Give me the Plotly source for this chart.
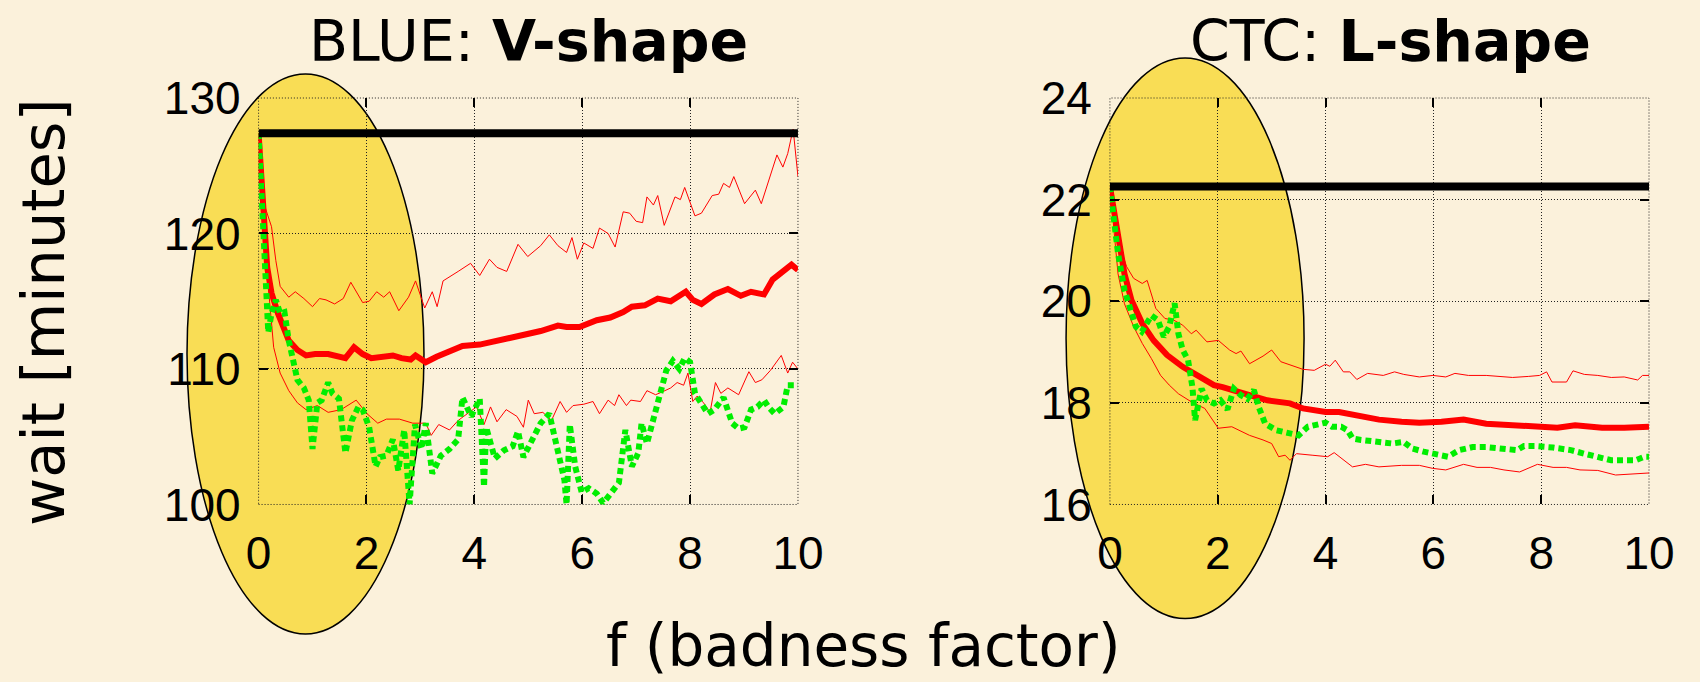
import plotly.graph_objects as go

# ---------------- Left panel: BLUE (V-shape) ----------------
blue_base_x = [0, 10]
blue_base_y = [127.4, 127.4]

blue_mean_x = [0, 0.08, 0.16, 0.24, 0.36, 0.56, 0.72, 0.88, 1.05, 1.29, 1.61, 1.77, 1.93, 2.09, 2.29,
               2.49, 2.65, 2.82, 2.91, 3.1, 3.3, 3.54, 3.78, 4.1, 4.34, 4.59, 4.83, 5.07, 5.23, 5.55,
               5.71, 5.95, 6.27, 6.52, 6.76, 6.92, 7.16, 7.4, 7.64, 7.92, 8.05, 8.21, 8.45, 8.7, 8.94,
               9.13, 9.37, 9.53, 9.73, 9.88, 10]
blue_mean_y = [127.4, 122.5, 117.5, 115.6, 114.1, 112.1, 111.4, 111.0, 111.1, 111.1, 110.8, 111.6, 111.1,
               110.8, 110.9, 111.0, 110.8, 110.7, 111.0, 110.5, 110.9, 111.3, 111.7, 111.8, 112.0, 112.2,
               112.5, 112.6, 112.8, 113.2, 113.1, 113.1, 113.6, 113.8, 114.2, 114.6, 114.7, 115.2, 115.0,
               115.7, 115.1, 114.8, 115.5, 115.9, 115.4, 115.7, 115.5, 116.6, 117.3, 117.7, 117.3]

blue_upper_x = [0, 0.1, 0.24, 0.32, 0.4, 0.56, 0.68, 0.84, 1.0, 1.13, 1.25, 1.41, 1.57, 1.71, 1.93, 2.05,
                2.19, 2.32, 2.43, 2.6, 2.78, 2.91, 3.08, 3.22, 3.31, 3.42, 3.7, 3.93, 4.1, 4.28, 4.42,
                4.6, 4.81, 4.99, 5.23, 5.39, 5.55, 5.71, 5.81, 5.91, 6.03, 6.2, 6.32, 6.48, 6.61, 6.76,
                6.88, 7.0, 7.12, 7.2, 7.32, 7.4, 7.52, 7.72, 7.82, 7.9, 8.09, 8.21, 8.41, 8.53, 8.62,
                8.73, 8.81, 9.01, 9.21, 9.32, 9.61, 9.72, 9.81, 9.91, 10]
blue_upper_y = [127.4, 122.2, 120.5, 118.0, 116.1, 115.3, 115.7, 115.2, 114.6, 115.2, 115.1, 114.8, 115.2,
                116.4, 114.9, 115.0, 115.7, 115.3, 115.7, 114.3, 115.3, 116.5, 114.5, 115.7, 114.6, 116.5,
                117.2, 117.8, 116.9, 118.1, 117.5, 117.2, 119.2, 118.3, 119.1, 119.9, 119.1, 118.6, 119.7,
                118.1, 119.3, 118.9, 120.4, 120.0, 119.0, 121.6, 121.5, 120.9, 120.8, 122.7, 122.1, 122.8,
                120.6, 122.7, 122.5, 123.4, 121.3, 121.5, 122.8, 122.9, 123.7, 123.4, 124.2, 122.2, 123.2,
                122.2, 125.8, 124.9, 125.9, 127.7, 124.2]

blue_lower_x = [0, 0.08, 0.16, 0.28, 0.4, 0.56, 0.72, 0.88, 1.09, 1.29, 1.53, 1.81, 2.01, 2.21, 2.37,
                2.61, 2.86, 3.1, 3.2, 3.34, 3.54, 3.7, 3.86, 4.04, 4.18, 4.3, 4.42, 4.59, 4.79, 4.91,
                5.0, 5.11, 5.27, 5.43, 5.59, 5.71, 5.83, 6.03, 6.2, 6.32, 6.48, 6.6, 6.68, 6.82, 6.9,
                7.08, 7.2, 7.36, 7.48, 7.64, 7.76, 7.88, 7.96, 8.05, 8.13, 8.25, 8.37, 8.47, 8.57, 8.7,
                8.9, 9.09, 9.21, 9.33, 9.49, 9.69, 9.81, 9.9, 10]
blue_lower_y = [127.4, 122.0, 117.0, 111.6, 109.7, 108.4, 107.5, 107.0, 107.3, 106.8, 107.0, 107.7, 106.7,
                106.0, 106.3, 106.3, 106.0, 106.0, 105.1, 105.9, 105.5, 106.2, 106.7, 107.2, 105.9, 107.2,
                106.1, 107.0, 106.5, 105.7, 107.7, 106.7, 106.8, 106.2, 107.6, 106.8, 107.3, 107.4, 107.6,
                106.7, 107.7, 107.3, 108.1, 107.3, 107.7, 107.6, 108.4, 108.1, 108.3, 108.6, 109.0, 108.8,
                109.7, 107.6, 108.0, 107.5, 106.8, 109.0, 108.2, 108.6, 108.1, 109.8, 109.0, 109.2, 109.9,
                111.0, 109.7, 110.5, 110.0]

blue_green_x = [0, 0.06, 0.12, 0.18, 0.24, 0.32, 0.4, 0.48, 0.56, 0.72, 0.84, 0.93, 1.0, 1.09, 1.17,
                1.29, 1.37, 1.49, 1.61, 1.73, 1.85, 1.93, 2.05, 2.17, 2.25, 2.37, 2.49, 2.59, 2.7, 2.8,
                2.9, 3.02, 3.1, 3.22, 3.38, 3.54, 3.7, 3.78, 3.94, 4.1, 4.18, 4.22, 4.38, 4.55, 4.71,
                4.81, 4.91, 5.03, 5.23, 5.39, 5.55, 5.67, 5.71, 5.77, 5.87, 5.99, 6.12, 6.27, 6.39, 6.52,
                6.68, 6.8, 6.92, 7.04, 7.1, 7.2, 7.32, 7.44, 7.56, 7.68, 7.8, 7.9, 8.0, 8.09, 8.21, 8.33,
                8.45, 8.62, 8.78, 8.9, 9.01, 9.13, 9.25, 9.37, 9.45, 9.57, 9.73, 9.81, 9.94, 10]
blue_green_y = [127.4, 122.9, 118.0, 112.7, 114.1, 115.1, 114.1, 114.2, 112.1, 109.2, 108.6, 107.7, 104.1,
                107.5, 107.7, 109.0, 108.2, 107.8, 103.8, 106.2, 107.2, 107.0, 105.7, 102.8, 103.5, 103.6,
                104.8, 102.5, 105.5, 100.0, 105.9, 104.1, 106.0, 102.3, 103.6, 104.1, 104.8, 107.9, 106.5,
                107.8, 101.3, 105.7, 103.4, 104.0, 104.3, 105.4, 103.5, 104.4, 106.0, 106.7, 103.8, 101.8,
                100.0, 105.9, 102.8, 100.9, 101.2, 100.8, 100.1, 100.8, 101.6, 105.5, 102.8, 103.8, 106.0,
                104.5, 106.2, 108.2, 109.9, 110.6, 110.0, 110.8, 110.5, 108.2, 107.5, 106.7, 107.0, 107.9,
                106.0, 105.6, 105.7, 107.0, 107.2, 107.7, 107.2, 106.7, 107.2, 108.8, 108.8, 108.8]

# ---------------- Right panel: CTC (L-shape) ----------------
ctc_base_x = [0, 10]
ctc_base_y = [22.26, 22.26]

ctc_mean_x = [0, 0.07, 0.15, 0.27, 0.4, 0.6, 0.81, 1.06, 1.35, 1.6, 1.93, 2.09, 2.34, 2.59, 2.92, 3.34,
              3.58, 4.0, 4.25, 4.58, 4.99, 5.41, 5.74, 6.15, 6.56, 6.98, 7.47, 7.89, 8.3, 8.63, 9.13,
              9.54, 10]
ctc_mean_y = [22.26, 21.79, 21.2, 20.54, 20.02, 19.56, 19.23, 18.94, 18.71, 18.54, 18.35, 18.31, 18.22,
              18.15, 18.05, 17.99, 17.89, 17.82, 17.82, 17.74, 17.67, 17.63, 17.61, 17.63, 17.67, 17.59,
              17.56, 17.56, 17.51, 17.56, 17.51, 17.51, 17.53]

ctc_upper_x = [0, 0.11, 0.19, 0.31, 0.44, 0.6, 0.69, 0.85, 1.02, 1.18, 1.35, 1.51, 1.6, 1.8, 2.01, 2.22,
               2.34, 2.43, 2.59, 2.84, 3.0, 3.17, 3.58, 3.79, 4.0, 4.08, 4.18, 4.33, 4.45, 4.58, 4.78,
               5.07, 5.28, 5.45, 5.74, 5.99, 6.23, 6.4, 6.65, 6.98, 7.23, 7.47, 7.76, 7.97, 8.1, 8.2,
               8.47, 8.59, 8.8, 9.05, 9.3, 9.54, 9.79, 9.88, 10]
ctc_upper_y = [22.26, 21.59, 21.07, 20.68, 20.45, 20.35, 20.41, 19.86, 19.66, 19.63, 19.53, 19.36, 19.43,
               19.2, 19.23, 19.04, 18.97, 19.02, 18.77, 18.92, 19.04, 18.81, 18.66, 18.64, 18.76, 18.72,
               18.84, 18.61, 18.61, 18.46, 18.58, 18.54, 18.61, 18.56, 18.51, 18.54, 18.51, 18.58, 18.54,
               18.54, 18.52, 18.5, 18.52, 18.54, 18.61, 18.41, 18.41, 18.63, 18.56, 18.54, 18.5, 18.51,
               18.45, 18.54, 18.54]

ctc_lower_x = [0, 0.07, 0.15, 0.27, 0.44, 0.6, 0.77, 0.94, 1.1, 1.27, 1.51, 1.76, 2.01, 2.26, 2.59, 2.84,
               3.0, 3.13, 3.25, 3.34, 3.46, 3.75, 4.04, 4.16, 4.37, 4.5, 4.74, 4.99, 5.41, 5.74, 5.99,
               6.23, 6.56, 6.81, 7.06, 7.31, 7.6, 7.93, 8.22, 8.47, 8.72, 9.05, 9.38, 9.63, 9.88, 10]
ctc_lower_y = [22.26, 21.46, 20.54, 19.95, 19.5, 19.17, 18.87, 18.54, 18.35, 18.18, 18.02, 17.89, 17.5,
               17.53, 17.36, 17.27, 17.2, 16.94, 16.97, 16.87, 17.0, 16.97, 16.94, 17.02, 16.84, 16.74,
               16.79, 16.74, 16.77, 16.77, 16.71, 16.68, 16.79, 16.73, 16.73, 16.68, 16.64, 16.79, 16.73,
               16.73, 16.68, 16.67, 16.58, 16.6, 16.61, 16.62]

ctc_green_x = [0, 0.07, 0.15, 0.27, 0.4, 0.48, 0.59, 0.67, 0.77, 0.89, 1.0, 1.1, 1.2, 1.27, 1.35, 1.45,
               1.53, 1.58, 1.64, 1.7, 1.8, 1.93, 2.05, 2.18, 2.3, 2.43, 2.55, 2.67, 2.76, 2.88, 3.09,
               3.34, 3.5, 3.67, 3.83, 4.0, 4.12, 4.29, 4.41, 4.5, 4.66, 4.99, 5.24, 5.45, 5.61, 5.82,
               6.07, 6.27, 6.48, 6.73, 6.98, 7.31, 7.55, 7.68, 7.89, 8.22, 8.55, 8.8, 9.05, 9.3, 9.54,
               9.75, 9.92, 10]
ctc_green_y = [22.26, 21.59, 20.94, 20.22, 19.76, 19.5, 19.4, 19.56, 19.72, 19.63, 19.3, 19.5, 19.96,
               19.36, 19.04, 18.84, 18.31, 17.66, 18.05, 18.28, 18.05, 17.99, 18.05, 17.87, 18.28, 18.15,
               18.08, 18.25, 17.92, 17.59, 17.46, 17.4, 17.36, 17.53, 17.56, 17.61, 17.53, 17.53, 17.46,
               17.3, 17.27, 17.23, 17.2, 17.23, 17.1, 17.04, 17.0, 16.94, 17.07, 17.13, 17.13, 17.1,
               17.07, 17.15, 17.15, 17.12, 17.07, 17.0, 16.94, 16.87, 16.87, 16.87, 16.94, 16.94]

x_ticks = [0, 2, 4, 6, 8, 10]
blue_y_ticks = [100, 110, 120, 130]
ctc_y_ticks = [16, 18, 20, 22, 24]

titles = ["BLUE: <b>V-shape</b>", "CTC: <b>L-shape</b>"]
y_label = "wait [minutes]"
x_label = "f (badness factor)"

RED = "#ff0000"
GREEN = "#00ee00"
BG = "#fbf1db"
YELLOW = "#f9dd55"

fig = go.Figure()


def add_panel(xa, ya, lx, ly, ux, uy, mx, my, gx, gy, bx, by):
    fig.add_trace(go.Scatter(x=ux, y=uy, xaxis=xa, yaxis=ya, mode="lines",
                             line=dict(color=RED, width=1), showlegend=False, hoverinfo="skip"))
    fig.add_trace(go.Scatter(x=lx, y=ly, xaxis=xa, yaxis=ya, mode="lines",
                             line=dict(color=RED, width=1), showlegend=False, hoverinfo="skip"))
    fig.add_trace(go.Scatter(x=mx, y=my, xaxis=xa, yaxis=ya, mode="lines",
                             line=dict(color=RED, width=6), showlegend=False, hoverinfo="skip"))
    fig.add_trace(go.Scatter(x=gx, y=gy, xaxis=xa, yaxis=ya, mode="lines",
                             line=dict(color=GREEN, width=6, dash="6px,4px"), showlegend=False,
                             hoverinfo="skip"))
    fig.add_trace(go.Scatter(x=bx, y=by, xaxis=xa, yaxis=ya, mode="lines",
                             line=dict(color="black", width=8), showlegend=False, hoverinfo="skip"))


add_panel("x", "y", blue_lower_x, blue_lower_y, blue_upper_x, blue_upper_y, blue_mean_x, blue_mean_y,
          blue_green_x, blue_green_y, blue_base_x, blue_base_y)
add_panel("x2", "y2", ctc_lower_x, ctc_lower_y, ctc_upper_x, ctc_upper_y, ctc_mean_x, ctc_mean_y,
          ctc_green_x, ctc_green_y, ctc_base_x, ctc_base_y)

tickfont = dict(family="Liberation Sans, Arial, sans-serif", size=46, color="black")
common = dict(showgrid=True, gridcolor="#222222", gridwidth=1, griddash="1px,2px", zeroline=False,
              ticks="inside", ticklen=9, tickwidth=1.5, tickcolor="black", mirror="ticks",
              showline=False, tickfont=tickfont, automargin=False)

Y0, Y1 = 0.2603, 0.8563
fig.update_layout(
    width=1700, height=682,
    margin=dict(l=0, r=0, t=0, b=0, autoexpand=False),
    paper_bgcolor=BG, plot_bgcolor="rgba(0,0,0,0)",
    xaxis=dict(domain=[0.1521, 0.4694], range=[0, 10], tickvals=x_ticks, anchor="y",
               ticklabelstandoff=18, **common),
    yaxis=dict(domain=[Y0, Y1], range=[100, 130], tickvals=blue_y_ticks, anchor="x",
               ticklabelstandoff=17, **common),
    xaxis2=dict(domain=[0.6529, 0.9700], range=[0, 10], tickvals=x_ticks, anchor="y2",
                ticklabelstandoff=18, **common),
    yaxis2=dict(domain=[Y0, Y1], range=[16, 24], tickvals=ctc_y_ticks, anchor="x2",
                ticklabelstandoff=17, **common),
)

# highlighted ellipses behind the curves
fig.add_shape(type="circle", xref="paper", yref="paper", x0=0.1100, x1=0.2494, y0=0.0704, y1=0.8915,
              fillcolor=YELLOW, line=dict(color="black", width=1.5), layer="below")
fig.add_shape(type="circle", xref="paper", yref="paper", x0=0.6271, x1=0.7671, y0=0.0931, y1=0.9150,
              fillcolor=YELLOW, line=dict(color="black", width=1.5), layer="below")

# dotted frame of each plot area
for xr, yr in (("x domain", "y domain"), ("x2 domain", "y2 domain")):
    fig.add_shape(type="rect", xref=xr, yref=yr, x0=0, x1=1, y0=0, y1=1,
                  line=dict(color="#222222", width=1, dash="1px,2px"), layer="below")

labfont = dict(family="DejaVu Sans, sans-serif", color="black")
fig.add_annotation(text=titles[0], xref="paper", yref="paper", x=0.311, y=0.94, showarrow=False,
                   xanchor="center", yanchor="middle", font=dict(size=57, **labfont))
fig.add_annotation(text=titles[1], xref="paper", yref="paper", x=0.818, y=0.94, showarrow=False,
                   xanchor="center", yanchor="middle", font=dict(size=57, **labfont))
fig.add_annotation(text=y_label, xref="paper", yref="paper", x=0.0253, y=0.5425, showarrow=False,
                   textangle=-90, xanchor="center", yanchor="middle", font=dict(size=59, **labfont))
fig.add_annotation(text=x_label, xref="paper", yref="paper", x=0.508, y=0.053, showarrow=False,
                   xanchor="center", yanchor="middle", font=dict(size=58, **labfont))

fig.write_html("out.html")
